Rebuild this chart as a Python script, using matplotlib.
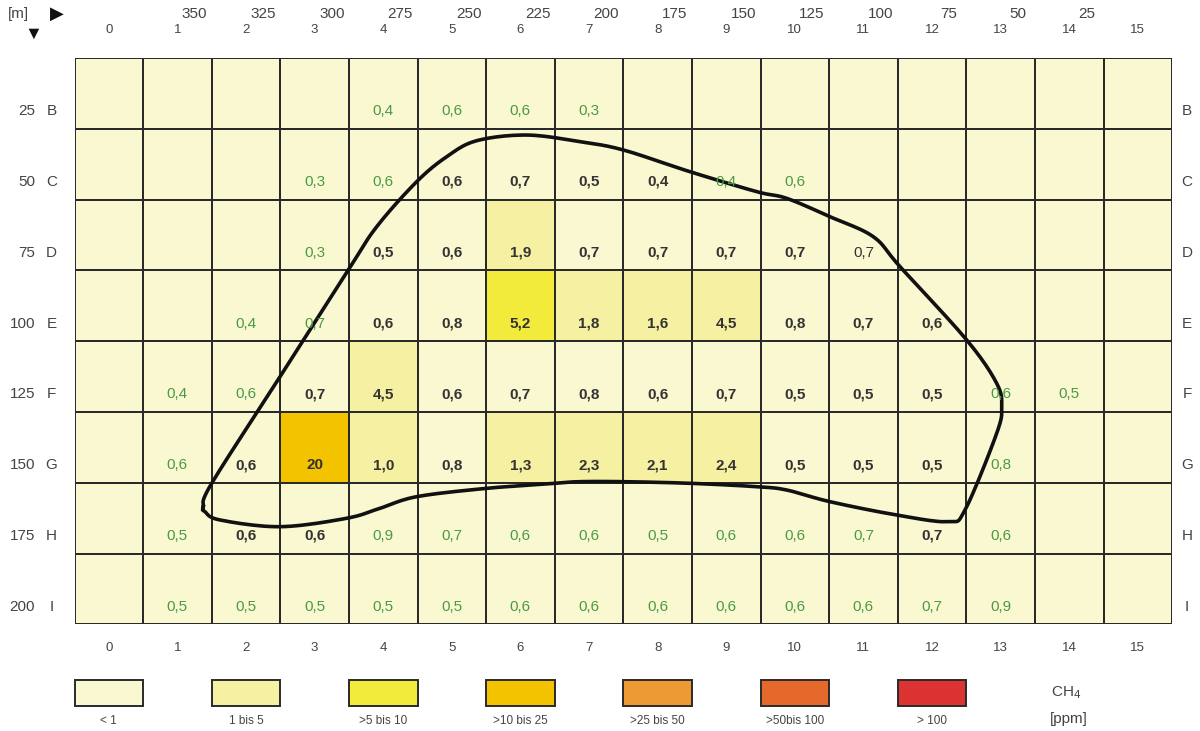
import matplotlib
matplotlib.use("Agg")
import matplotlib.pyplot as plt
import numpy as np
from matplotlib.colors import ListedColormap
from matplotlib.patches import Rectangle

plt.rcParams['font.family'] = ['Liberation Sans', 'DejaVu Sans']

nan = np.nan

# grid axes
row_names = ['B', 'C', 'D', 'E', 'F', 'G', 'H', 'I']
row_dist = [25, 50, 75, 100, 125, 150, 175, 200]
col_ids = list(range(16))
col_dist = [350, 325, 300, 275, 250, 225, 200, 175, 150, 125, 100, 75, 50, 25]  # columns 1..14

# CH4 readings [ppm], one list per row, 16 columns
ch4 = [
    [nan, nan, nan, nan, 0.4, 0.6, 0.6, 0.3, nan, nan, nan, nan, nan, nan, nan, nan],
    [nan, nan, nan, 0.3, 0.6, 0.6, 0.7, 0.5, 0.4, 0.4, 0.6, nan, nan, nan, nan, nan],
    [nan, nan, nan, 0.3, 0.5, 0.6, 1.9, 0.7, 0.7, 0.7, 0.7, 0.7, nan, nan, nan, nan],
    [nan, nan, 0.4, 0.7, 0.6, 0.8, 5.2, 1.8, 1.6, 4.5, 0.8, 0.7, 0.6, nan, nan, nan],
    [nan, 0.4, 0.6, 0.7, 4.5, 0.6, 0.7, 0.8, 0.6, 0.7, 0.5, 0.5, 0.5, 0.6, 0.5, nan],
    [nan, 0.6, 0.6, 20, 1.0, 0.8, 1.3, 2.3, 2.1, 2.4, 0.5, 0.5, 0.5, 0.8, nan, nan],
    [nan, 0.5, 0.6, 0.6, 0.9, 0.7, 0.6, 0.6, 0.5, 0.6, 0.6, 0.7, 0.7, 0.6, nan, nan],
    [nan, 0.5, 0.5, 0.5, 0.5, 0.5, 0.6, 0.6, 0.6, 0.6, 0.6, 0.6, 0.7, 0.9, nan, nan],
]

# label style per cell: g = outside zone, b = inside zone, n = plain
label_style = [
    "....gggg........",
    "...ggbbbbgg.....",
    "...gbbbbbbbn....",
    "..ggbbbbbbbbb...",
    ".ggbbbbbbbbbbgg.",
    ".gbbbbbbbbbbbg..",
    ".gbbggggggggbg..",
    ".ggggggggggggg..",
]

class_labels = ['< 1', '1 bis 5', '>5 bis 10', '>10 bis 25', '>25 bis 50', '>50bis 100', '> 100']
class_upper = [5, 10, 25, 50, 100]
class_colors = ['#faf8d0', '#f6f0a2', '#f2eb3c', '#f4c300', '#ed9a35', '#e4692a', '#dc3232']

# outline of the gas zone (column, row units), closed loop
zone_x = [1.877, 2.0, 2.996, 3.991, 4.405, 4.988, 5.426, 5.863, 6.592, 7.369, 8.0, 8.972,
          9.945, 10.382, 11.013, 11.644, 12.034, 13.006, 13.443, 13.516, 13.443, 12.981,
          12.738, 11.985, 11.013, 10.382, 9.945, 8.972, 8.0, 7.369, 7.004, 6.009, 4.988,
          4.453, 3.968, 2.996, 2.121, 1.902]
zone_y = [6.337, 6.007, 4.501, 2.994, 2.383, 1.747, 1.394, 1.168, 1.088, 1.182, 1.299, 1.606,
          1.888, 1.982, 2.242, 2.524, 2.948, 3.983, 4.595, 4.925, 5.301, 6.384,
          6.549, 6.455, 6.267, 6.102, 6.055, 6.007, 5.984, 5.984, 6.007, 6.078, 6.196,
          6.360, 6.501, 6.620, 6.525, 6.408]


def ch4_class(v):
    if np.isnan(v) or v < 1:
        return 0
    return int(np.searchsorted(class_upper, v, side='left')) + 1


def fmt(v):
    if v >= 10:
        return f"{v:.0f}"
    return f"{v:.1f}".replace('.', ',')


def closed_spline(x, y, n=12):
    # Catmull-Rom through the outline points, wrapping around
    p = np.column_stack([x, y])
    m = len(p)
    t = np.linspace(0, 1, n, endpoint=False)[:, None]
    out = []
    for i in range(m):
        p0, p1, p2, p3 = p[i - 1], p[i], p[(i + 1) % m], p[(i + 2) % m]
        seg = 0.5 * ((2 * p1) + (-p0 + p2) * t + (2 * p0 - 5 * p1 + 4 * p2 - p3) * t ** 2
                     + (-p0 + 3 * p1 - 3 * p2 + p3) * t ** 3)
        out.append(seg)
    out.append(p[:1])
    out = np.vstack(out)
    return out[:, 0], out[:, 1]


vals = np.array(ch4, dtype=float)
cls = np.vectorize(ch4_class)(vals)

fig = plt.figure(figsize=(12, 7.31), dpi=100)
W, H = 1200, 731
x0, x1 = 74.5, 74.5 + 16 * 68.6
y0, y1 = 58, 58 + 8 * 70.8
ax = fig.add_axes([x0 / W, 1 - y1 / H, (x1 - x0) / W, (y1 - y0) / H])

cmap = ListedColormap(class_colors)
ax.pcolormesh(np.arange(17), np.arange(9), cls, cmap=cmap, vmin=-0.5, vmax=6.5,
              edgecolors='#2a2a2a', linewidth=1.4)
ax.set_xlim(0, 16)
ax.set_ylim(8, 0)
ax.axis('off')

gray = '#444444'
green = '#4a9a45'
dark = '#333333'

for r in range(len(row_names)):
    for c in range(16):
        v = vals[r, c]
        st = label_style[r][c]
        if np.isnan(v) or st == '.':
            continue
        if st == 'g':
            ax.text(c + 0.5, r + 0.75, fmt(v), ha='center', va='center', fontsize=11, color=green)
        elif st == 'b':
            ax.text(c + 0.5, r + 0.75, fmt(v), ha='center', va='center', fontsize=11,
                    color=dark, fontweight='bold')
        else:
            ax.text(c + 0.5, r + 0.75, fmt(v), ha='center', va='center', fontsize=11, color=dark)

# zone outline
sx, sy = closed_spline(zone_x, zone_y)
ax.plot(sx, sy, color='#111111', lw=2.6, solid_joinstyle='round', clip_on=False)

# axis labels around the grid
for c in col_ids:
    ax.text(c + 0.5, -0.39, str(c), ha='center', va='center', fontsize=9.5, color=gray, clip_on=False)
    ax.text(c + 0.5, 8.33, str(c), ha='center', va='center', fontsize=9.5, color=gray, clip_on=False)
for i, d in enumerate(col_dist):
    ax.text(i + 1.75, -0.62, str(d), ha='center', va='center', fontsize=11, color=gray, clip_on=False)
for r, (name, d) in enumerate(zip(row_names, row_dist)):
    ax.text(-0.576, r + 0.75, str(d), ha='right', va='center', fontsize=11, color=gray, clip_on=False)
    ax.text(-0.335, r + 0.75, name, ha='center', va='center', fontsize=11, color=gray, clip_on=False)
    ax.text(16.22, r + 0.75, name, ha='center', va='center', fontsize=11, color=gray, clip_on=False)

ax.text(-0.82, -0.62, '[m]', ha='center', va='center', fontsize=11, color=gray, clip_on=False)
ax.text(-0.25, -0.62, '\u25B6', ha='center', va='center', fontsize=13, color='#111111', clip_on=False)
ax.text(-0.6, -0.33, '\u25BC', ha='center', va='center', fontsize=13, color='#111111', clip_on=False)

# legend boxes under the grid
for k, (lab, col) in enumerate(zip(class_labels, class_colors)):
    ax.add_patch(Rectangle((2 * k, 8.785), 1, 0.37, facecolor=col, edgecolor='#2a2a2a',
                           lw=1.4, clip_on=False))
    ax.text(2 * k + 0.5, 9.36, lab, ha='center', va='center', fontsize=8.5, color=gray, clip_on=False)

ax.text(14.45, 8.96, 'CH$_4$', ha='center', va='center', fontsize=11, color=gray, clip_on=False)
ax.text(14.5, 9.33, '[ppm]', ha='center', va='center', fontsize=11, color=gray, clip_on=False)

fig.savefig('out.png', dpi=100, facecolor='white')
